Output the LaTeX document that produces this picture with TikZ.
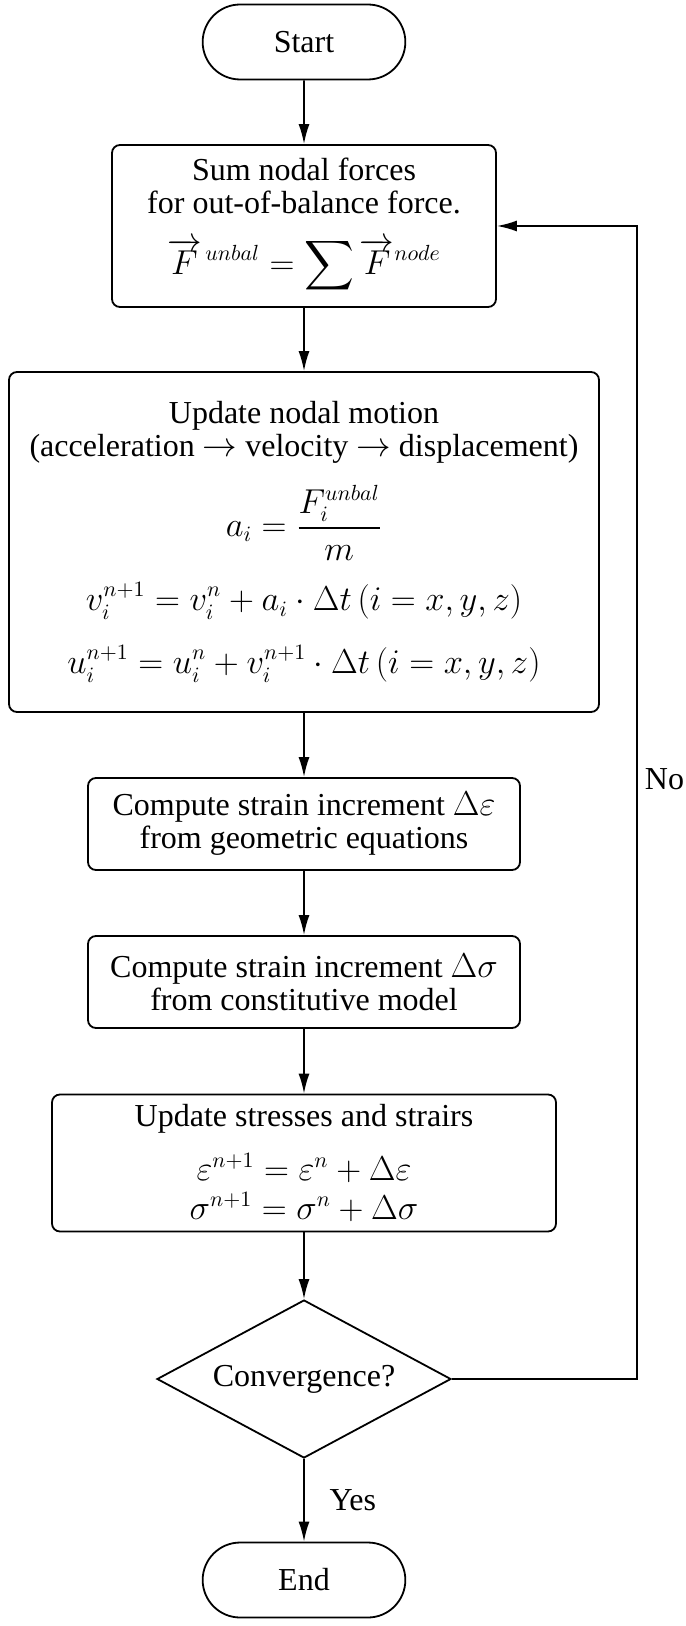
\documentclass[tikz,border=0pt]{standalone}
\usepackage{amsmath}
\usepackage{fontspec}
\setmainfont{Liberation Serif}
\usetikzlibrary{shapes,shapes.geometric,arrows.meta,positioning,calc}

\begin{document}
\begin{tikzpicture}[x=0.5pt,y=-0.5pt,
    font=\fontsize{16}{16.5}\selectfont,
    box/.style={draw,line width=0.9pt,rounded corners=4pt,align=center,inner sep=0pt},
    term/.style={draw,line width=0.9pt,rounded rectangle,minimum width=108pt,minimum height=37.5pt},
    decide/.style={draw,line width=0.9pt,diamond,aspect=1.86,inner sep=0pt,minimum width=147pt,minimum height=79pt},
    flow/.style={line width=0.9pt,-{Latex[length=10pt,width=5.5pt]}}]
      \useasboundingbox (0,0) rectangle (685,1626);

      \coordinate (s) at (304,42);
      \coordinate (f) at (304,226);
      \coordinate (m) at (304,542);
      \coordinate (e) at (304,824);
      \coordinate (g) at (304,982);
      \coordinate (u) at (304,1163);
      \coordinate (c) at (304,1379);
      \coordinate (t) at (304,1580);
      \coordinate (loop) at (637,1379);

      \node[term] (start) at (s) {Start};
      \node[box,minimum width=192pt,minimum height=81pt] (sum) at (f)
        {Sum nodal forces\\for out-of-balance force.\\[11pt]
         $\displaystyle\overrightarrow{F}^{\,unbal}=\sum\overrightarrow{F}^{node}$};
      \node[box,minimum width=295pt,minimum height=170pt] (motion) at (m)
        {Update nodal motion\\
         (acceleration $\rightarrow$ velocity $\rightarrow$ displacement)\\[10pt]
         $\displaystyle a_i=\frac{F_i^{unbal}}{m}$\\[10pt]
         $\displaystyle v_i^{n+1}=v_i^n+a_i\cdot\Delta t\left(i=x,y,z\right)$\\[12pt]
         $\displaystyle u_i^{n+1}=u_i^n+v_i^{n+1}\cdot\Delta t\left(i=x,y,z\right)$};
      \node[box,minimum width=216pt,minimum height=46pt] (strain) at (e)
        {Compute strain increment $\Delta\varepsilon$\\from geometric equations};
      \node[box,minimum width=216pt,minimum height=46pt] (stress) at (g)
        {Compute strain increment $\Delta\sigma$\\from constitutive model};
      \node[box,minimum width=252pt,minimum height=68.5pt] (upd) at (u)
        {Update stresses and strairs\\[9pt]
         $\varepsilon^{n+1}=\varepsilon^n+\Delta\varepsilon$\\[3pt]
         $\sigma^{n+1}=\sigma^n+\Delta\sigma$};
      \node[decide] (conv) at (c) {Convergence?};
      \node[term] (end) at (t) {End};

      \draw[flow] (start) -- (sum);
      \draw[flow] (sum) -- (motion);
      \draw[flow] (motion) -- (strain);
      \draw[flow] (strain) -- (stress);
      \draw[flow] (stress) -- (upd);
      \draw[flow] (upd) -- (conv);
      \draw[flow] (conv) --node[anchor=west,xshift=9pt] (yes) {Yes} (end);
      \draw[flow] (conv.east) -- (loop) |-node[pos=0.26,anchor=west,inner sep=0pt,xshift=3.5pt] (no) {No} (sum.east);
    \end{tikzpicture}
\end{document}
